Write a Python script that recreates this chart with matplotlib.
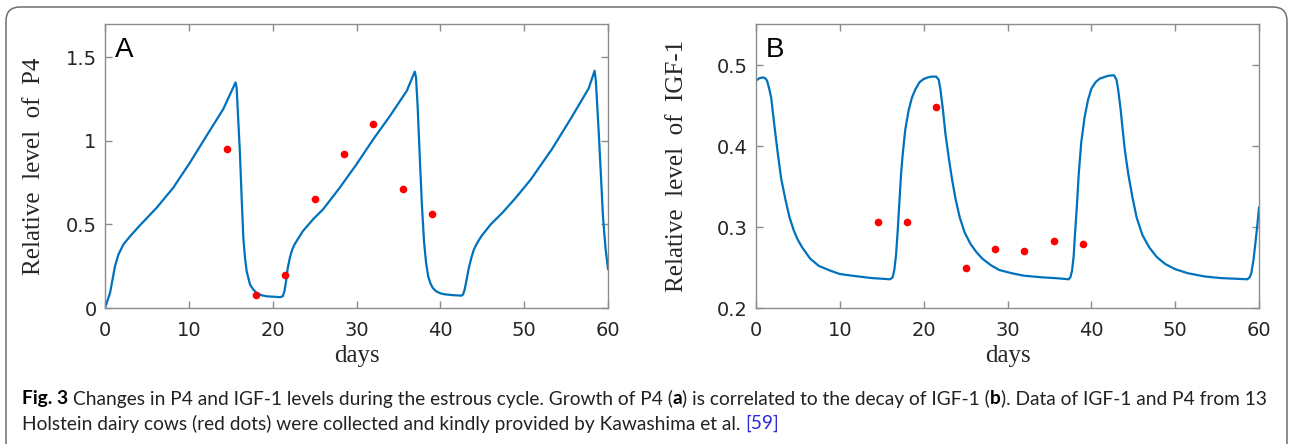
import matplotlib
matplotlib.use("Agg")
import matplotlib.pyplot as plt
from matplotlib.patches import FancyBboxPatch
from matplotlib import font_manager

# P4 model curve
p4_days = [0, 0.4, 0.6, 1.19, 1.6, 2.19, 3.0, 4.17, 6.16, 8.14, 10.13, 12.1, 14.1, 15.57,
           15.7, 15.9, 16.1, 16.3, 16.5, 16.7, 16.9, 17.3, 17.7, 18.1, 18.7, 19.3, 20.9,
           21.2, 21.4, 21.6, 21.8, 22.05, 22.3, 22.6, 23.1, 23.6, 24.8, 26.0, 28.0, 30.0,
           32.0, 34.0, 36.0, 36.95, 37.1, 37.3, 37.55, 37.8, 38.05, 38.3, 38.55, 38.8,
           39.1, 39.5, 40.0, 40.5, 41.5, 42.5, 42.7, 42.9, 43.1, 43.4, 43.7, 44.0, 44.4,
           44.9, 46.0, 47.4, 49.0, 50.8, 53.3, 55.7, 57.7, 58.4, 58.55, 58.75, 58.9,
           59.15, 59.4, 59.7, 60]
p4_vals = [0, 0.06, 0.09, 0.25, 0.32, 0.38, 0.43, 0.495, 0.60, 0.72, 0.87, 1.03, 1.19, 1.35,
           1.32, 1.12, 0.92, 0.66, 0.42, 0.30, 0.22, 0.14, 0.11, 0.09, 0.076, 0.07, 0.065,
           0.07, 0.10, 0.16, 0.24, 0.30, 0.345, 0.38, 0.42, 0.46, 0.53, 0.59, 0.72, 0.86,
           1.01, 1.15, 1.30, 1.415, 1.38, 1.20, 0.90, 0.62, 0.40, 0.27, 0.19, 0.15,
           0.12, 0.10, 0.088, 0.082, 0.077, 0.074, 0.08, 0.11, 0.16, 0.24, 0.30, 0.35, 0.39,
           0.43, 0.50, 0.57, 0.66, 0.77, 0.95, 1.145, 1.315, 1.42, 1.36, 1.18, 1.046,
           0.80, 0.548, 0.36, 0.233]

# IGF-1 model curve
igf_days = [0, 0.4, 0.83, 1.1, 1.32, 1.6, 1.81, 2.2, 2.55, 3.0, 3.53, 4.0, 4.5, 5.0, 5.5,
            6.46, 7.5, 8.9, 10.0, 11.4, 13.8, 16.0, 16.3, 16.5, 16.7, 16.9, 17.1, 17.3,
            17.5, 17.8, 18.2, 18.6, 19.0, 19.5, 20.0, 20.5, 21.0, 21.5, 21.8, 22.0, 22.3,
            22.6, 23.0, 23.4, 23.8, 24.3, 24.9, 25.6, 26.3, 27.0, 28.0, 29.0, 30.5, 31.9,
            34.0, 36.0, 37.3, 37.5, 37.7, 37.9, 38.05, 38.3, 38.5, 38.8, 39.2, 39.6, 40.0,
            40.5, 41.0, 42.0, 42.7, 43.0, 43.2, 43.5, 43.7, 44.0, 44.4, 44.9, 45.4, 46.1,
            46.9, 47.8, 48.8, 50.0, 51.5, 53.5, 55.4, 58.6, 58.9, 59.1, 59.35, 59.6, 59.8, 60]
igf_vals = [0.481, 0.484, 0.485, 0.484, 0.481, 0.47, 0.46, 0.425, 0.395, 0.36, 0.333, 0.312,
            0.296, 0.284, 0.275, 0.261, 0.252, 0.246, 0.242, 0.240, 0.237, 0.2355, 0.238,
            0.247, 0.265, 0.295, 0.33, 0.365, 0.39, 0.42, 0.444, 0.46, 0.47, 0.479, 0.483,
            0.485, 0.486, 0.486, 0.482, 0.47, 0.445, 0.415, 0.385, 0.358, 0.335, 0.312,
            0.293, 0.279, 0.269, 0.261, 0.253, 0.247, 0.243, 0.240, 0.238, 0.2367, 0.2355,
            0.238, 0.246, 0.265, 0.291, 0.33, 0.366, 0.405, 0.436, 0.457, 0.471, 0.479,
            0.4835, 0.487, 0.4877, 0.482, 0.47, 0.445, 0.424, 0.395, 0.366, 0.337, 0.312,
            0.29, 0.275, 0.263, 0.2545, 0.248, 0.243, 0.239, 0.237, 0.2355, 0.238, 0.244,
            0.26, 0.283, 0.302, 0.324]

# measured data (red dots)
obs_days = [14.5, 18, 21.5, 25, 28.5, 32, 35.5, 39]
obs_p4 = [0.95, 0.08, 0.2, 0.65, 0.92, 1.1, 0.71, 0.56]
obs_igf = [0.3065, 0.3057, 0.448, 0.249, 0.2726, 0.2706, 0.283, 0.279]

W, H = 1290, 444
fig = plt.figure(figsize=(W / 100, H / 100), dpi=100)

blue = "#0072BD"
gray = "#8c8c8c"


def setup(ax, ylim, yticks, yticklabels, ylabel, letter, ylab_x):
    ax.set_xlim(0, 60)
    ax.set_ylim(*ylim)
    ax.set_xticks([0, 10, 20, 30, 40, 50, 60])
    ax.set_yticks(yticks)
    ax.set_yticklabels(yticklabels)
    ax.tick_params(direction="in", top=True, right=True, length=5, width=1,
                   color=gray, labelcolor="#262626", labelsize=14)
    ax.tick_params(axis="x", pad=9)
    ax.tick_params(axis="y", pad=6)
    for lab in ax.get_xticklabels() + ax.get_yticklabels():
        lab.set_family("DejaVu Sans")
    for s in ax.spines.values():
        s.set_color(gray)
        s.set_linewidth(1)
    ax.set_xlabel("days", family="Liberation Serif", fontsize=18, color="#262626")
    ax.xaxis.set_label_coords(0.5, -0.13)
    ax.set_ylabel(ylabel, family="Liberation Serif", fontsize=18, color="#262626")
    ax.yaxis.set_label_coords(ylab_x, 0.5)
    ax.text(0.02, 0.884, letter, transform=ax.transAxes, fontsize=20,
            family="Liberation Sans", va="baseline", ha="left")


ax1 = fig.add_axes([105 / W, (H - 308) / H, 503 / W, 284 / H])
ax1.plot(p4_days, p4_vals, color=blue, lw=1.6)
ax1.plot(obs_days, obs_p4, "o", color="red", ms=5.5, mec="none")
setup(ax1, (0, 1.7), [0, 0.5, 1, 1.5], ["0", "0.5", "1", "1.5"],
      "Relative  level  of  P4", "A", -0.119)

ax2 = fig.add_axes([756 / W, (H - 308) / H, 503 / W, 284 / H])
ax2.plot(igf_days, igf_vals, color=blue, lw=1.6)
ax2.plot(obs_days, obs_igf, "o", color="red", ms=5.5, mec="none")
setup(ax2, (0.2, 0.551), [0.2, 0.3, 0.4, 0.5], ["0.2", "0.3", "0.4", "0.5"],
      "Relative  level  of  IGF-1", "B", -0.135)

# outer rounded frame
frame = FancyBboxPatch((6, -40), 1281, H - 7 + 40,
                       boxstyle="round,pad=0,rounding_size=14",
                       fill=False, edgecolor="#6e6e6e", linewidth=1.1,
                       transform=None)
fig.patches.append(frame)

# caption font: pick a humanist sans that is installed
cap_font = "Open Sans"
for name in ["Lato", "Open Sans"]:
    try:
        font_manager.findfont(name, fallback_to_default=False)
        cap_font = name
        break
    except ValueError:
        pass

line1 = [("Fig. 3", "bold", "black", True),
         ("Changes in P4 and IGF-1 levels during the estrous cycle. Growth of P4 (", "normal", "#222222", False),
         ("a", "bold", "black", False),
         (") is correlated to the decay of IGF-1 (", "normal", "#222222", False),
         ("b", "bold", "black", False),
         ("). Data of IGF-1 and P4 from 13", "normal", "#222222", False)]
line2 = [("Holstein dairy cows (red dots) were collected and kindly provided by Kawashima et al.", "normal", "#222222", True),
         ("[59]", "normal", "#2b2bdb", False)]

renderer = fig.canvas.get_renderer()


def text_width(s, size, weight):
    t = fig.text(0, 0, s, fontsize=size, fontweight=weight, family=cap_font, transform=None)
    w = t.get_window_extent(renderer).width
    t.remove()
    return w


def space_width(size):
    return text_width("a a", size, "normal") - text_width("aa", size, "normal")


def run_width(runs, size):
    total = 0
    for s, wgt, col, sp in runs:
        total += text_width(s, size, wgt)
        if sp:
            total += space_width(size)
    return total


def draw_runs(runs, x, y, size):
    sw = space_width(size)
    for s, wgt, col, sp in runs:
        t = fig.text(x, y, s, fontsize=size, fontweight=wgt, color=col,
                     family=cap_font, transform=None, va="center_baseline")
        x += t.get_window_extent(renderer).width
        if sp:
            x += sw


x0, x1 = 22, 1265
size = 10 * (x1 - x0) / run_width(line1, 10)
draw_runs(line1, x0, H - 397, size)
draw_runs(line2, x0, H - 422, size)

fig.savefig("out.png", dpi=100)
